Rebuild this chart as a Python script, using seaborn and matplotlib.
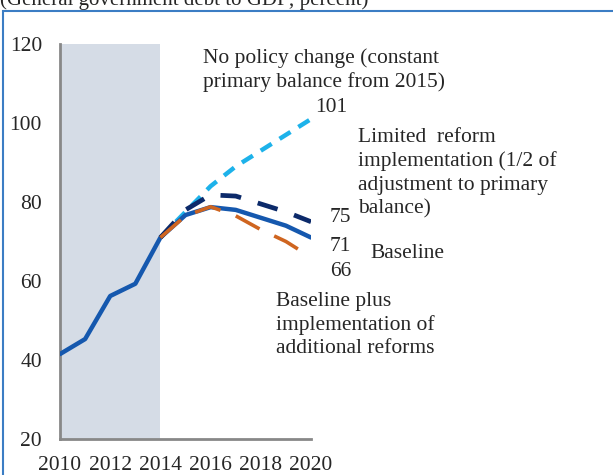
import numpy as np
import pandas as pd
import seaborn as sns
import matplotlib.pyplot as plt
from matplotlib.patches import Rectangle

# Data
years_hist = [2010, 2011, 2012, 2013, 2014]
years_proj = [2014, 2015, 2016, 2017, 2018, 2019, 2020]
baseline = [41.5, 45.3, 56.2, 59.3, 71.0, 76.7, 78.7, 78.0, 76.0, 74.0, 71.0]
no_policy = [71.0, 77.5, 84.0, 89.0, 93.0, 97.0, 101.0]
limited_reform = [71.0, 78.0, 81.8, 81.5, 79.5, 77.5, 75.0]
additional_reforms = [71.0, 76.5, 78.8, 76.5, 73.0, 70.0, 66.0]

years_all = years_hist + years_proj[1:]

sns.set_style("white")
plt.rcParams["font.family"] = ["Liberation Serif", "DejaVu Serif"]

fig = plt.figure(figsize=(6.13, 4.75), dpi=100)
ax = fig.add_axes([0.0979, 0.0758, 0.4095, 0.8316])

# historical shading
ax.axvspan(2010, 2014, color="#d5dce6", zorder=0, lw=0)

sns.lineplot(x=years_all, y=baseline, ax=ax, color="#1558ae", lw=3.2, zorder=4)
sns.lineplot(x=years_proj, y=no_policy, ax=ax, color="#1db2ea", lw=3.2, zorder=3)
ax.lines[-1].set_dashes([2.9, 2.1])
sns.lineplot(x=years_proj, y=limited_reform, ax=ax, color="#0c2a6a", lw=3.4, zorder=5)
ax.lines[-1].set_dashes([4.4, 3.7])
sns.lineplot(x=years_proj, y=additional_reforms, ax=ax, color="#cf6520", lw=2.6, zorder=5)
ax.lines[-1].set_dashes([7.5, 4.5])

ax.set_xlim(2010, 2020)
ax.set_ylim(20, 120)
ax.set_xticks(range(2010, 2021, 2))
ax.set_xticks(range(2010, 2021, 1), minor=True)
ax.set_yticks(range(20, 121, 20))
ax.tick_params(axis="y", direction="in", length=5, width=1.6, color="#888888",
               pad=13, labelsize=15.5)
ax.tick_params(axis="x", which="both", direction="in", length=5, width=1.6,
               color="#888888", pad=12, labelsize=15.5)
for s in ["top", "right"]:
    ax.spines[s].set_visible(False)
for s in ["left", "bottom"]:
    ax.spines[s].set_color("#888888")
    ax.spines[s].set_linewidth(2)
ax.set_facecolor("white")

# annotations (figure pixel coordinates)
W, H = 613, 475
def ftext(x, y, s, **kw):
    fig.text(x / W, 1 - y / H, s, fontsize=15.5, va="center", ha="left",
             linespacing=1.3, **kw)

ftext(203, 70, "No policy change (constant\nprimary balance from 2015)")
ftext(315, 107, "101")
ftext(358, 173, "Limited  reform\nimplementation (1/2 of\nadjustment to primary\nbalance)")
ftext(330, 218, "75")
ftext(330, 246, "71")
ftext(370, 254, "Baseline")
ftext(330, 271, "66")
ftext(276, 325, "Baseline plus\nimplementation of\nadditional reforms")

# title (cut off at the top, as in the source) and frame
fig.text(0.0, 1 - 5 / H, "(General government debt to GDP; percent)",
         fontsize=15, va="baseline", ha="left")
fig.patches.append(Rectangle((2.5 / W, -0.05), 1.0, 1 - 10.5 / H + 0.05,
                             transform=fig.transFigure, fill=False,
                             edgecolor="#3b7dc4", lw=1.5))

fig.savefig("out.png", dpi=100)
